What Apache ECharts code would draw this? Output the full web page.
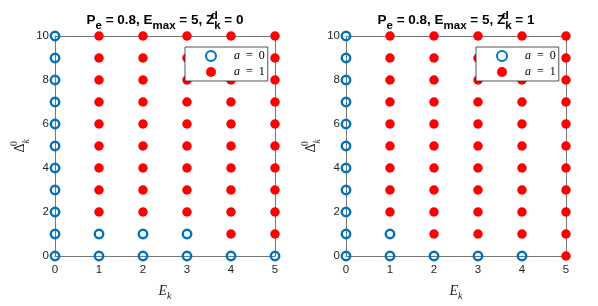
<!DOCTYPE html>
<html><head><meta charset="utf-8">
<script src="https://cdn.jsdelivr.net/npm/echarts@6/dist/echarts.min.js"></script>
<style>html,body{margin:0;padding:0;background:#fff}#c{width:598px;height:306px}</style>
</head><body><div id="c"></div>
<script>
const energyLevels = [0, 1, 2, 3, 4, 5];
const ageLevels = [0, 1, 2, 3, 4, 5, 6, 7, 8, 9, 10];
const xTickLabels = ['0', '1', '2', '3', '4', '5'];
const yTickLabels = ['0', '2', '4', '6', '8', '10'];
const panelZd = ['0', '1'];
// action a for each (Δ row, E column): Z_k^d = 0
const actionZd0 = [
  [0, 0, 0, 0, 0, 0],
  [0, 0, 0, 0, 1, 1],
  [0, 1, 1, 1, 1, 1],
  [0, 1, 1, 1, 1, 1],
  [0, 1, 1, 1, 1, 1],
  [0, 1, 1, 1, 1, 1],
  [0, 1, 1, 1, 1, 1],
  [0, 1, 1, 1, 1, 1],
  [0, 1, 1, 1, 1, 1],
  [0, 1, 1, 1, 1, 1],
  [0, 1, 1, 1, 1, 1]
];
// Z_k^d = 1
const actionZd1 = [
  [0, 0, 0, 0, 0, 1],
  [0, 0, 1, 1, 1, 1],
  [0, 1, 1, 1, 1, 1],
  [0, 1, 1, 1, 1, 1],
  [0, 1, 1, 1, 1, 1],
  [0, 1, 1, 1, 1, 1],
  [0, 1, 1, 1, 1, 1],
  [0, 1, 1, 1, 1, 1],
  [0, 1, 1, 1, 1, 1],
  [0, 1, 1, 1, 1, 1],
  [0, 1, 1, 1, 1, 1]
];
const actions = [actionZd0, actionZd1];

function pts(mat, a) {
  const out = [];
  ageLevels.forEach((d, i) => energyLevels.forEach((e, j) => { if (mat[i][j] === a) out.push([e, d]); }));
  return out;
}

const BLUE = '#0072BD', RED = '#FF0000', AXC = '#777777', TXT = '#262626';
const SANS = 'Liberation Sans, Arial, sans-serif';
const SERIF = 'Liberation Serif, Times New Roman, serif';
const gridsPos = [{left: 55, top: 36, width: 220, height: 222}, {left: 346, top: 36, width: 220, height: 222}];

const option = {
  animation: false,
  backgroundColor: '#fff',
  title: panelZd.map((z, k) => ({
    text: '{n|P}{sub|e}{n| = 0.8, E}{sub|max}{n| = 5, Z}{sup|d}{sub|k}{n| = ' + z + '}',
    left: gridsPos[k].left + gridsPos[k].width / 2,
    textAlign: 'center',
    top: 9.5,
    padding: 0,
    textStyle: {
      rich: {
        n: {fontFamily: SANS, fontWeight: 'bold', fontSize: 13.5, color: '#000', lineHeight: 22.5, verticalAlign: 'middle'},
        sub: {fontFamily: SANS, fontWeight: 'bold', fontSize: 11.5, color: '#000', lineHeight: 12, verticalAlign: 'bottom'},
        sup: {fontFamily: SANS, fontWeight: 'bold', fontSize: 11.5, color: '#000', lineHeight: 12, verticalAlign: 'top', width: 0}
      }
    }
  })),
  legend: panelZd.map((z, k) => ({
    orient: 'vertical',
    left: gridsPos[k].left + 130,
    top: 47,
    padding: [2, 3, 2, 20],
    itemWidth: 10,
    itemHeight: 10,
    itemGap: 2,
    backgroundColor: '#fff',
    borderColor: '#262626',
    borderWidth: 0.8,
    borderRadius: 0,
    data: ['a0', 'a1'],
    selectedMode: false,
    formatter: nm => '{s| }{m|a}{n|  =  ' + (nm === 'a0' ? '0' : '1') + '}',
    textStyle: {
      lineHeight: 14,
      rich: {
        s: {width: 13},
        m: {fontFamily: SERIF, fontStyle: 'italic', fontSize: 12, color: '#000', lineHeight: 14},
        n: {fontFamily: SERIF, fontSize: 12, color: '#000', lineHeight: 14}
      }
    }
  })),
  grid: gridsPos.map(g => Object.assign({containLabel: false}, g)),
  xAxis: [].concat(...panelZd.map((z, k) => [
    {
      gridIndex: k, type: 'value', min: 0, max: 5, interval: 1,
      axisLine: {onZero: false, lineStyle: {color: AXC, width: 1}},
      axisTick: {show: false}, splitLine: {show: false},
      axisLabel: {color: TXT, fontFamily: SANS, fontSize: 11.5, margin: 8, formatter: v => xTickLabels[energyLevels.indexOf(v)]},
      name: '{m|E}{s|k}', nameLocation: 'middle', nameGap: 25,
      nameTextStyle: {rich: {
        m: {fontFamily: SERIF, fontStyle: 'italic', fontSize: 14, color: TXT, lineHeight: 20, verticalAlign: 'middle'},
        s: {fontFamily: SERIF, fontStyle: 'italic', fontSize: 10, color: TXT, lineHeight: 12, verticalAlign: 'bottom'}
      }}
    },
    {
      gridIndex: k, type: 'value', min: 0, max: 5, interval: 1, position: 'top',
      axisLine: {onZero: false, lineStyle: {color: AXC, width: 1}},
      axisTick: {show: false}, splitLine: {show: false}, axisLabel: {show: false}
    }
  ])),
  yAxis: [].concat(...panelZd.map((z, k) => [
    {
      gridIndex: k, type: 'value', min: 0, max: 10, interval: 2,
      axisLine: {onZero: false, lineStyle: {color: AXC, width: 1}},
      axisTick: {show: false}, splitLine: {show: false},
      axisLabel: {color: TXT, fontFamily: SANS, fontSize: 11.5, margin: 6, formatter: v => yTickLabels[v / 2]},
      name: '{m|Δ}{p|0}{s|k}', nameLocation: 'middle', nameGap: 24, nameRotate: 90,
      nameTextStyle: {rich: {
        m: {fontFamily: SERIF, fontSize: 14, color: TXT, lineHeight: 22, verticalAlign: 'middle'},
        p: {fontFamily: SERIF, fontSize: 9.5, color: TXT, lineHeight: 10, verticalAlign: 'top', width: 0},
        s: {fontFamily: SERIF, fontStyle: 'italic', fontSize: 9.5, color: TXT, lineHeight: 10, verticalAlign: 'bottom'}
      }}
    },
    {
      gridIndex: k, type: 'value', min: 0, max: 10, interval: 2, position: 'right',
      axisLine: {onZero: false, lineStyle: {color: AXC, width: 1}},
      axisTick: {show: false}, splitLine: {show: false}, axisLabel: {show: false}
    }
  ])),
  series: [].concat(...panelZd.map((z, k) => [
    {
      name: 'a0', type: 'scatter', xAxisIndex: 2 * k, yAxisIndex: 2 * k, clip: false,
      symbol: 'circle', symbolSize: 8.5,
      itemStyle: {color: 'rgba(255,255,255,0)', borderColor: BLUE, borderWidth: 2.4, opacity: 1},
      data: pts(actions[k], 0)
    },
    {
      name: 'a1', type: 'scatter', xAxisIndex: 2 * k, yAxisIndex: 2 * k, clip: false,
      symbol: 'circle', symbolSize: 9.5,
      itemStyle: {color: RED, opacity: 1},
      data: pts(actions[k], 1)
    }
  ]))
};
const chart = echarts.init(document.getElementById('c'), null, {renderer: 'canvas'});
chart.setOption(option);
</script></body></html>
